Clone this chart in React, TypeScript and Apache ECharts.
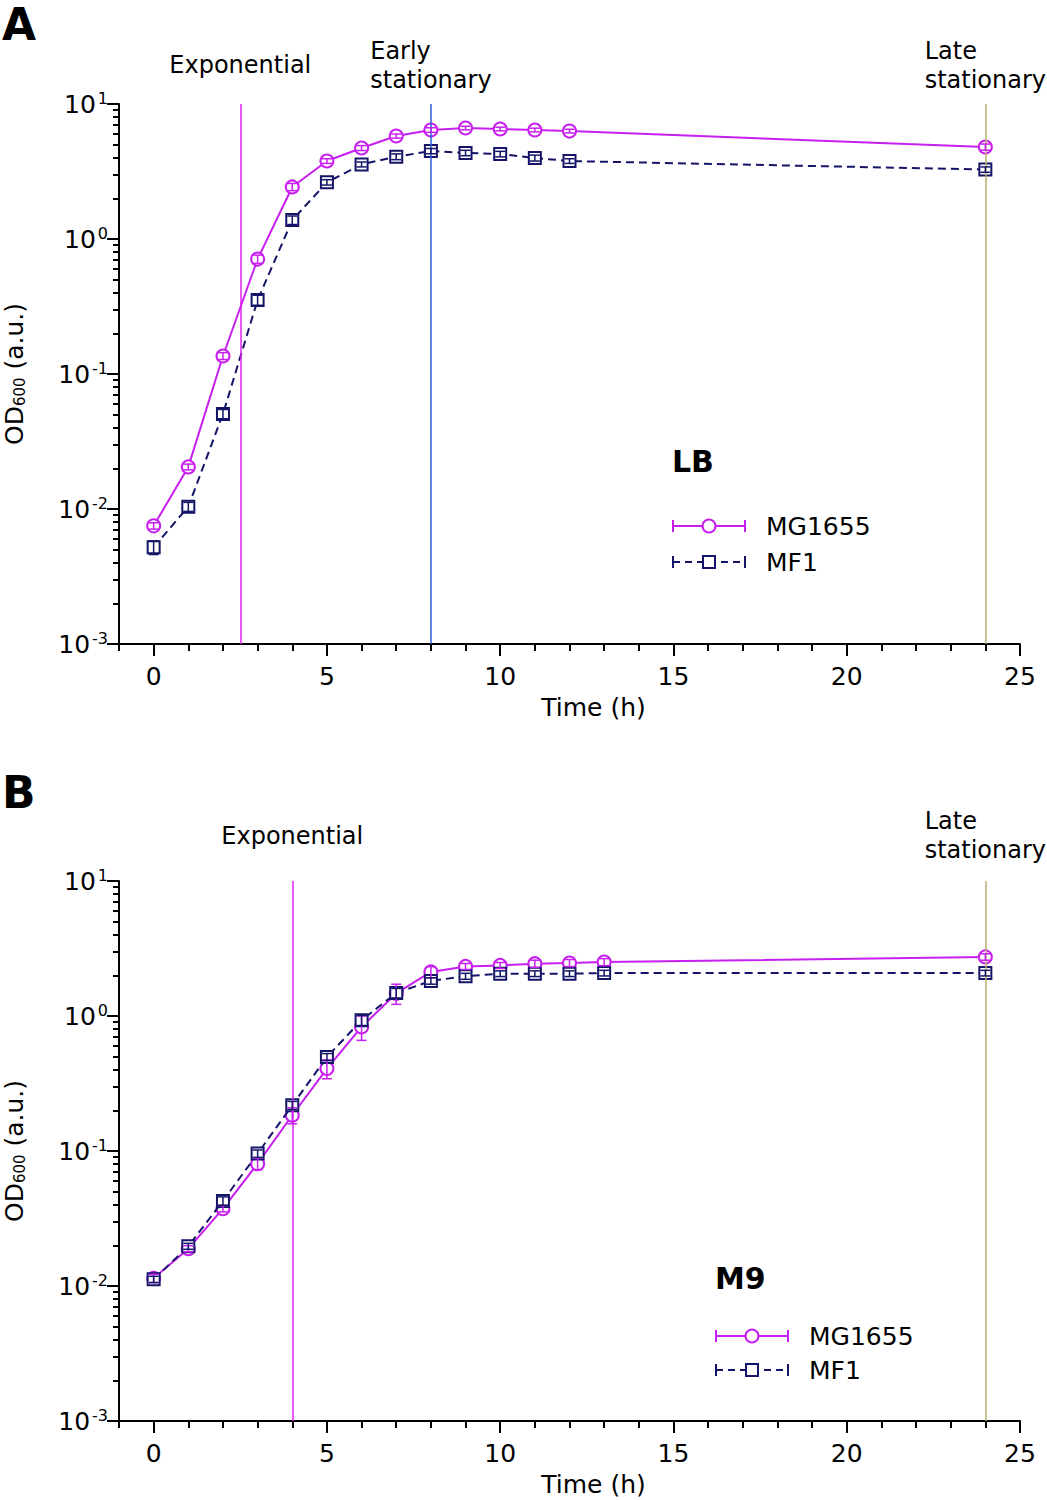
import React, { useEffect, useRef } from "react";
import * as echarts from "echarts";

// ---------------- data ----------------
const hoursLB = [0, 1, 2, 3, 4, 5, 6, 7, 8, 9, 10, 11, 12, 24];
const mg1655LB = [0.0075, 0.0205, 0.136, 0.71, 2.43, 3.78, 4.72, 5.79, 6.42, 6.64, 6.53, 6.42, 6.3, 4.8];
const mg1655LBErr = [0.0004, 0.001, 0.008, 0.05, 0.15, 0.15, 0.2, 0.2, 0.25, 0.2, 0.2, 0.2, 0.2, 0.25];
const mf1LB = [0.0052, 0.0104, 0.0506, 0.353, 1.38, 2.63, 3.57, 4.07, 4.48, 4.34, 4.26, 3.98, 3.78, 3.27];
const mf1LBErr = [0.0006, 0.0008, 0.004, 0.03, 0.1, 0.12, 0.15, 0.2, 0.2, 0.2, 0.2, 0.2, 0.15, 0.15];

const hoursM9 = [0, 1, 2, 3, 4, 5, 6, 7, 8, 9, 10, 11, 12, 13, 24];
const mg1655M9 = [0.0114, 0.0189, 0.0374, 0.0806, 0.184, 0.408, 0.83, 1.47, 2.12, 2.33, 2.37, 2.44, 2.47, 2.51, 2.74];
const mg1655M9Err = [0.0008, 0.001, 0.002, 0.008, 0.025, 0.065, 0.17, 0.25, 0.2, 0.12, 0.12, 0.15, 0.15, 0.15, 0.15];
const mf1M9 = [0.0112, 0.0197, 0.0427, 0.0957, 0.218, 0.497, 0.93, 1.48, 1.82, 1.97, 2.06, 2.06, 2.06, 2.08, 2.08];
const mf1M9Err = [0.0006, 0.001, 0.003, 0.006, 0.015, 0.03, 0.08, 0.12, 0.1, 0.1, 0.1, 0.1, 0.1, 0.1, 0.1];

const phaseHoursLB = [2.5, 8, 24];
const phaseLabelsLB = ["Exponential", "Early\nstationary", "Late\nstationary"];
const phaseHoursM9 = [4, 24];
const phaseLabelsM9 = ["Exponential", "Late\nstationary"];

const xMajorTicks = [0, 5, 10, 15, 20, 25];
const xMinorTicks = [-1, 0, 1, 2, 3, 4, 5, 6, 7, 8, 9, 10, 11, 12, 13, 14, 15, 16, 17, 18, 19, 20, 21, 22, 23, 24, 25];
const yMajorTicks = [0.001, 0.01, 0.1, 1, 10];
const yMinorMultipliers = [2, 3, 4, 5, 6, 7, 8, 9];
const yDecades = [0.001, 0.01, 0.1, 1];

// ---------------- styles ----------------
const FONT = '"DejaVu Sans", "Liberation Sans", sans-serif';
const MAGENTA = "#c81ff0";
const NAVY = "#141468";
const LINE_MAGENTA = "#e020f0";
const LINE_BLUE = "#2a5fd8";
const LINE_OLIVE = "#b8b070";

const yMinorTicks: number[] = [];
yDecades.forEach((d) => yMinorMultipliers.forEach((m) => yMinorTicks.push(m * d)));

function xAxes(gridIndex: number) {
  return [
    {
      type: "value",
      gridIndex,
      min: -1,
      max: 25,
      position: "bottom",
      axisLine: { show: true, onZero: false, lineStyle: { color: "#000", width: 2 } },
      axisTick: { show: true, customValues: xMajorTicks, length: 12, lineStyle: { color: "#000", width: 2 } },
      axisLabel: { show: true, customValues: xMajorTicks, fontSize: 25, fontFamily: FONT, color: "#000", margin: 20 },
      splitLine: { show: false },
      name: "Time (h)",
      nameLocation: "middle",
      nameGap: 51,
      nameTextStyle: { fontSize: 25, fontFamily: FONT, color: "#000", padding: [0, 0, 0, 48] },
    },
    {
      type: "value",
      gridIndex,
      min: -1,
      max: 25,
      position: "bottom",
      axisLine: { show: false, onZero: false },
      axisTick: { show: true, customValues: xMinorTicks, length: 7, lineStyle: { color: "#000", width: 2 } },
      axisLabel: { show: false },
      splitLine: { show: false },
    },
  ];
}

function yAxes(gridIndex: number) {
  return [
    {
      type: "log",
      logBase: 10,
      gridIndex,
      min: 0.001,
      max: 10,
      position: "left",
      axisLine: { show: true, onZero: false, lineStyle: { color: "#000", width: 2 } },
      axisTick: { show: true, customValues: yMajorTicks, length: 12, lineStyle: { color: "#000", width: 2 } },
      axisLabel: {
        show: true,
        customValues: yMajorTicks,
        margin: 11,
        formatter: (v: number) => `{b|10}{s|${Math.round(Math.log10(v))}}`,
        rich: {
          b: { fontSize: 25, fontFamily: FONT, color: "#000", lineHeight: 28 },
          s: { fontSize: 16, fontFamily: FONT, color: "#000", lineHeight: 16, verticalAlign: "top", padding: [0, 0, 0, 2] },
        },
      },
      splitLine: { show: false },
      name: "OD{sub|600} (a.u.)",
      nameLocation: "middle",
      nameRotate: 90,
      nameGap: 92,
      nameTextStyle: {
        fontSize: 25,
        fontFamily: FONT,
        color: "#000",
        rich: {
          sub: { fontSize: 15, fontFamily: FONT, color: "#000", verticalAlign: "bottom", lineHeight: 15 },
        },
      },
    },
    {
      type: "log",
      logBase: 10,
      gridIndex,
      min: 0.001,
      max: 10,
      position: "left",
      axisLine: { show: false, onZero: false },
      axisTick: { show: true, customValues: yMinorTicks, length: 6, lineStyle: { color: "#000", width: 2 } },
      axisLabel: { show: false },
      splitLine: { show: false },
    },
  ];
}

function phaseMarkLine(hours: number[], labels: string[], colors: string[], distOne: number, distTwo: number) {
  return {
    silent: true,
    symbol: ["none", "none"],
    animation: false,
    data: hours.map((h, i) => {
      const lines = labels[i].split("\n");
      return {
        xAxis: h,
        lineStyle: { color: colors[i], width: 1.5, type: "solid" },
        label: {
          show: true,
          position: "end",
          distance: lines.length === 1 ? distOne : distTwo,
          formatter: lines.map((l) => `{a|${l}}`).join("\n"),
          rich: {
            a: { fontSize: 24, lineHeight: 29, fontFamily: FONT, color: "#000", align: "left" },
          },
        },
      };
    }),
  };
}

function lineSeries(
  name: string,
  hours: number[],
  values: number[],
  xi: number,
  yi: number,
  circle: boolean,
  markLine?: any
) {
  const color = circle ? MAGENTA : NAVY;
  return {
    type: "line",
    name,
    xAxisIndex: xi,
    yAxisIndex: yi,
    data: hours.map((h, i) => [h, values[i]]),
    symbol: circle ? "emptyCircle" : "emptyRect",
    symbolSize: circle ? 13 : 12,
    showAllSymbol: true,
    itemStyle: { color, borderColor: color, borderWidth: 2 },
    lineStyle: { color, width: 2, type: circle ? "solid" : [8, 5] },
    z: circle ? 3 : 4,
    markLine,
  };
}

function errorSeries(hours: number[], values: number[], errs: number[], xi: number, yi: number, color: string) {
  return {
    type: "custom",
    xAxisIndex: xi,
    yAxisIndex: yi,
    silent: true,
    z: 6,
    data: hours.map((h, i) => [h, values[i] - errs[i], values[i] + errs[i]]),
    encode: { x: 0, y: [1, 2] },
    renderItem: (_params: any, api: any) => {
      const x = api.value(0);
      const top = api.coord([x, api.value(2)]);
      const bot = api.coord([x, api.value(1)]);
      const w = 5;
      const st = { stroke: color, lineWidth: 1.5 };
      return {
        type: "group",
        children: [
          { type: "line", shape: { x1: top[0], y1: top[1], x2: bot[0], y2: bot[1] }, style: st },
          { type: "line", shape: { x1: top[0] - w, y1: top[1], x2: top[0] + w, y2: top[1] }, style: st },
          { type: "line", shape: { x1: bot[0] - w, y1: bot[1], x2: bot[0] + w, y2: bot[1] }, style: st },
        ],
      };
    },
  };
}

function legendGroup(title: string, x: number, titleY: number, row1Y: number, row2Y: number) {
  const lineLen = 72;
  const mid = x + lineLen / 2;
  const textX = x + lineLen + 21;
  const cap = 6;
  const mk = (y: number, color: string, dash: number[] | null) => {
    const st: any = { stroke: color, lineWidth: 2 };
    if (dash) st.lineDash = dash;
    return [
      { type: "line", shape: { x1: x, y1: y, x2: x + lineLen, y2: y }, style: st },
      { type: "line", shape: { x1: x, y1: y - cap, x2: x, y2: y + cap }, style: { stroke: color, lineWidth: 2 } },
      { type: "line", shape: { x1: x + lineLen, y1: y - cap, x2: x + lineLen, y2: y + cap }, style: { stroke: color, lineWidth: 2 } },
    ];
  };
  return {
    type: "group",
    children: [
      {
        type: "text",
        style: { text: title, x: x - 1, y: titleY, font: `bold 30px ${FONT}`, fill: "#000", verticalAlign: "middle" },
      },
      ...mk(row1Y, MAGENTA, null),
      { type: "circle", shape: { cx: mid, cy: row1Y, r: 6.5 }, style: { fill: "#fff", stroke: MAGENTA, lineWidth: 2 } },
      {
        type: "text",
        style: { text: "MG1655", x: textX, y: row1Y, font: `25px ${FONT}`, fill: "#000", verticalAlign: "middle" },
      },
      ...mk(row2Y, NAVY, [7, 5]),
      { type: "rect", shape: { x: mid - 6, y: row2Y - 6, width: 12, height: 12 }, style: { fill: "#fff", stroke: NAVY, lineWidth: 2 } },
      {
        type: "text",
        style: { text: "MF1", x: textX, y: row2Y, font: `25px ${FONT}`, fill: "#000", verticalAlign: "middle" },
      },
    ],
  };
}

export default function App() {
  const ref = useRef<HTMLDivElement>(null);
  useEffect(() => {
    document.body.style.margin = "0";
    if (!ref.current) return;
    const chart = echarts.init(ref.current, undefined, { renderer: "svg" });
    const option: any = {
      animation: false,
      backgroundColor: "#fff",
      textStyle: { fontFamily: FONT },
      grid: [
        { left: 119, top: 104, width: 901, height: 540, containLabel: false, outerBoundsMode: "none" },
        { left: 119, top: 881, width: 901, height: 540, containLabel: false, outerBoundsMode: "none" },
      ],
      xAxis: [...xAxes(0), ...xAxes(1)],
      yAxis: [...yAxes(0), ...yAxes(1)],
      series: [
        lineSeries(
          "MG1655",
          hoursLB,
          mg1655LB,
          0,
          0,
          true,
          phaseMarkLine(phaseHoursLB, phaseLabelsLB, [LINE_MAGENTA, LINE_BLUE, LINE_OLIVE], 25, 10)
        ),
        lineSeries("MF1", hoursLB, mf1LB, 0, 0, false),
        errorSeries(hoursLB, mg1655LB, mg1655LBErr, 0, 0, MAGENTA),
        errorSeries(hoursLB, mf1LB, mf1LBErr, 0, 0, NAVY),
        lineSeries(
          "MG1655",
          hoursM9,
          mg1655M9,
          2,
          2,
          true,
          phaseMarkLine(phaseHoursM9, phaseLabelsM9, [LINE_MAGENTA, LINE_OLIVE], 31, 17)
        ),
        lineSeries("MF1", hoursM9, mf1M9, 2, 2, false),
        errorSeries(hoursM9, mg1655M9, mg1655M9Err, 2, 2, MAGENTA),
        errorSeries(hoursM9, mf1M9, mf1M9Err, 2, 2, NAVY),
      ],
      graphic: [
        { type: "text", style: { text: "A", x: 2, y: 2, font: `bold 44px ${FONT}`, fill: "#000" } },
        { type: "text", style: { text: "B", x: 2, y: 770, font: `bold 44px ${FONT}`, fill: "#000" } },
        legendGroup("LB", 673, 461, 526, 562),
        legendGroup("M9", 716, 1278, 1336, 1370),
      ],
    };
    chart.setOption(option);
    return () => chart.dispose();
  }, []);
  return <div ref={ref} style={{ width: 1047, height: 1500 }} />;
}
